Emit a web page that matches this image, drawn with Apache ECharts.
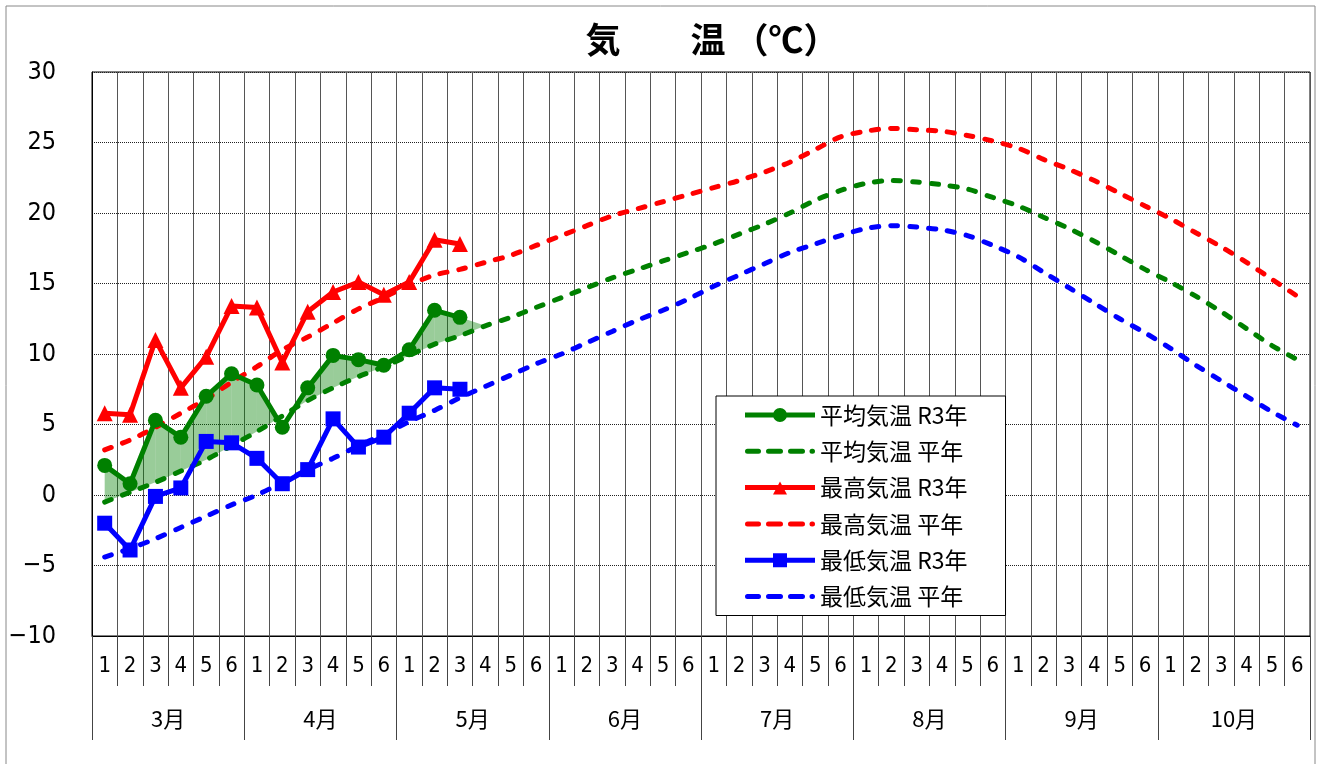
<!DOCTYPE html>
<html>
<head>
<meta charset="utf-8">
<script src="https://cdn.jsdelivr.net/npm/echarts@6/dist/echarts.min.js"></script>
<style>
html,body{margin:0;padding:0;background:#fff;}
#c{width:1321px;height:764px;}
</style>
</head>
<body>
<div id="c"></div>
<script>
// ---- data ----
const pentads = ['1','2','3','4','5','6'];
const months = ['3月','4月','5月','6月','7月','8月','9月','10月'];
const yTicks = [-10, -5, 0, 5, 10, 15, 20, 25, 30];

const meanR3 = [2.1, 0.8, 5.3, 4.1, 7.0, 8.6, 7.8, 4.8, 7.6, 9.9, 9.6, 9.2, 10.3, 13.1, 12.6];
const maxR3  = [5.8, 5.7, 11.0, 7.6, 9.8, 13.4, 13.3, 9.4, 13.0, 14.4, 15.1, 14.2, 15.1, 18.1, 17.8];
const minR3  = [-2.0, -3.9, -0.1, 0.5, 3.8, 3.7, 2.6, 0.8, 1.8, 5.4, 3.4, 4.1, 5.8, 7.6, 7.5];

const meanNorm = [-0.5, 0.2, 0.9, 1.7, 2.5, 3.5, 4.5, 5.6, 6.7, 7.6, 8.4, 9.1,
  9.9, 10.7, 11.3, 12.0, 12.6, 13.3, 14.0, 14.7, 15.4, 16.0, 16.6, 17.2,
  17.8, 18.5, 19.2, 20.0, 20.9, 21.6, 22.1, 22.3, 22.2, 22.0, 21.7, 21.1,
  20.5, 19.7, 18.9, 18.0, 17.0, 16.0, 15.1, 14.1, 13.0, 11.8, 10.6, 9.6];
const maxNorm = [3.2, 3.9, 4.8, 5.8, 6.8, 8.0, 9.1, 10.3, 11.2, 12.2, 13.2, 14.0,
  14.9, 15.6, 16.0, 16.5, 17.0, 17.7, 18.4, 19.1, 19.8, 20.3, 20.8, 21.3,
  21.8, 22.3, 22.9, 23.6, 24.5, 25.4, 25.8, 26.0, 25.9, 25.8, 25.5, 25.1,
  24.6, 23.8, 23.1, 22.3, 21.4, 20.5, 19.6, 18.6, 17.6, 16.5, 15.3, 14.1];
const minNorm = [-4.4, -3.8, -3.1, -2.3, -1.5, -0.7, 0.0, 0.9, 1.8, 2.6, 3.5, 4.3,
  5.2, 6.0, 6.9, 7.7, 8.5, 9.3, 10.0, 10.8, 11.6, 12.4, 13.1, 13.9,
  14.8, 15.6, 16.4, 17.2, 17.8, 18.4, 18.9, 19.1, 19.0, 18.8, 18.4, 17.7,
  16.9, 15.8, 14.7, 13.6, 12.5, 11.5, 10.4, 9.2, 8.1, 7.0, 5.9, 4.95];

const names = ['平均気温 R3年','平均気温 平年','最高気温 R3年','最高気温 平年','最低気温 R3年','最低気温 平年'];

// ---- build ----
const categories = [];
months.forEach(() => pentads.forEach(p => categories.push(p)));
const FONT = '"Liberation Sans Narrow","DejaVu Sans Condensed","Noto Sans CJK JP",sans-serif';
const JFONT = '"Noto Sans CJK JP",sans-serif';

const GREEN = '#008000', RED = '#ff0000', BLUE = '#0000ff';
const dash = [7, 12];

// legend icons (70 x 14 box; corner anchors keep the box from being stretched)
const BOX = 'M0,0L0,0.01Z M70,14L70,13.99Z ';
const BAR = 'M0,4.5H70V9.5H0Z ';
const ICON_CIRCLE = 'path://' + BOX + BAR + 'M28,7A7,7 0 1,1 42,7A7,7 0 1,1 28,7Z';
const ICON_TRI = 'path://' + BOX + BAR + 'M35,1L42,14L28,14Z';
const ICON_SQ = 'path://' + BOX + BAR + 'M28,0H42V14H28Z';
const dashSeg = (a, b) => 'M' + (a + 2.5) + ',4.5H' + (b - 2.5) + 'A2.5,2.5 0 0,1 ' + (b - 2.5) + ',9.5H' + (a + 2.5) + 'A2.5,2.5 0 0,1 ' + (a + 2.5) + ',4.5Z ';
const ICON_DASH = 'path://' + BOX + dashSeg(0, 16) + dashSeg(21, 38) + dashSeg(43, 60) + dashSeg(64.5, 70);

function normSeries(name, data, color) {
  return {
    name, type: 'line', data, symbol: 'none', showSymbol: false, smooth: 0.3, z: 4,
    lineStyle: { color: color, width: 5, type: dash, cap: 'round' },
    itemStyle: { color: color },
    emphasis: { disabled: true }
  };
}
function r3Series(name, data, color, symbol, size) {
  return {
    name, type: 'line', data, symbol, symbolSize: size, z: 5,
    lineStyle: { color: color, width: 5 },
    itemStyle: { color: color },
    emphasis: { disabled: true }
  };
}

const segIdx = meanR3.map((v, i) => [i]);
const legendIcons = [ICON_CIRCLE, ICON_DASH, ICON_TRI, ICON_DASH, ICON_SQ, ICON_DASH];

const chart = echarts.init(document.getElementById('c'));
chart.setOption({
  backgroundColor: '#fff',
  animation: false,
  title: {
    text: '気　　温 （℃）',
    left: 707, top: 17, textAlign: 'center',
    textStyle: { fontFamily: JFONT, fontSize: 35, fontWeight: 'bold', color: '#000' }
  },
  graphic: [{
    type: 'rect', shape: { x: 6, y: 6, width: 1309, height: 780 },
    style: { fill: 'none', stroke: '#888', lineWidth: 1 }, silent: true
  }],
  grid: { left: 92, right: 11, top: 72, bottom: 128, show: true, borderColor: '#000', borderWidth: 1, backgroundColor: 'transparent' },
  legend: {
    orient: 'vertical', left: 716, top: 396,
    data: names.map((n, k) => ({ name: n, icon: legendIcons[k] })),
    itemWidth: 70, itemHeight: 14, itemGap: 12.3,
    padding: [7, 38, 7, 29],
    backgroundColor: '#fff', borderColor: '#000', borderWidth: 1,
    itemStyle: { borderWidth: 0 },
    textStyle: { fontFamily: JFONT, fontSize: 23, color: '#000', lineHeight: 24 }
  },
  xAxis: [{
    type: 'category', data: categories, boundaryGap: true, position: 'bottom',
    axisLine: { show: true, onZero: false, lineStyle: { color: '#000', width: 1 } },
    axisTick: { show: true, interval: 0, length: 50, lineStyle: { color: '#444' } },
    axisLabel: { interval: 0, margin: 19, fontFamily: FONT, fontSize: 22, color: '#000' },
    splitLine: { show: true, interval: 0, lineStyle: { color: '#555', width: 1 } }
  }, {
    type: 'category', data: months, boundaryGap: true, position: 'bottom',
    axisLine: { show: false, onZero: false },
    axisTick: { show: true, interval: 0, length: 104, lineStyle: { color: '#444' } },
    axisLabel: { interval: 0, margin: 72, fontFamily: JFONT, fontSize: 22, color: '#000' },
    splitLine: { show: false }
  }],
  yAxis: {
    type: 'value', min: yTicks[0], max: yTicks[yTicks.length - 1], interval: 5,
    axisLine: { show: true, lineStyle: { color: '#000' } },
    axisTick: { show: false },
    axisLabel: {
      margin: 36, fontFamily: FONT, fontSize: 25, color: '#000',
      formatter: v => String(v).replace('-', '−')
    },
    splitLine: { show: true, lineStyle: { color: '#222', width: 1, type: [1, 1] } }
  },
  series: [
    {
      name: 'fill', type: 'custom', z: 2, silent: true, data: segIdx,
      encode: { x: 0 },
      renderItem: function (params, api) {
        const i = api.value(0);
        const n0 = meanNorm[i], n1 = meanNorm[i + 1];
        const r0 = meanR3[i];
        const r1 = (i + 1 < meanR3.length) ? meanR3[i + 1] : n1;
        const d0 = r0 - n0, d1 = r1 - n1;
        const P = (x, v) => api.coord([x, v]);
        let pts = null;
        if (d0 >= 0 && d1 >= 0) {
          pts = [P(i, n0), P(i, r0), P(i + 1, r1), P(i + 1, n1)];
        } else if (d0 * d1 < 0) {
          const t = d0 / (d0 - d1);
          const a = P(i, 0), b = P(i + 1, 0);
          const yc = n0 + t * (n1 - n0);
          const C = [a[0] + t * (b[0] - a[0]), api.coord([i, yc])[1]];
          pts = d0 > 0 ? [P(i, n0), P(i, r0), C] : [C, P(i + 1, r1), P(i + 1, n1)];
        }
        if (!pts) return { type: 'group', children: [] };
        return { type: 'polygon', shape: { points: pts }, style: { fill: 'rgba(0,128,0,0.4)' } };
      }
    },
    r3Series(names[0], meanR3, GREEN, 'circle', 15),
    normSeries(names[1], meanNorm, GREEN),
    r3Series(names[2], maxR3, RED, 'triangle', 16),
    normSeries(names[3], maxNorm, RED),
    r3Series(names[4], minR3, BLUE, 'rect', 15),
    normSeries(names[5], minNorm, BLUE)
  ]
});
</script>
</body>
</html>
